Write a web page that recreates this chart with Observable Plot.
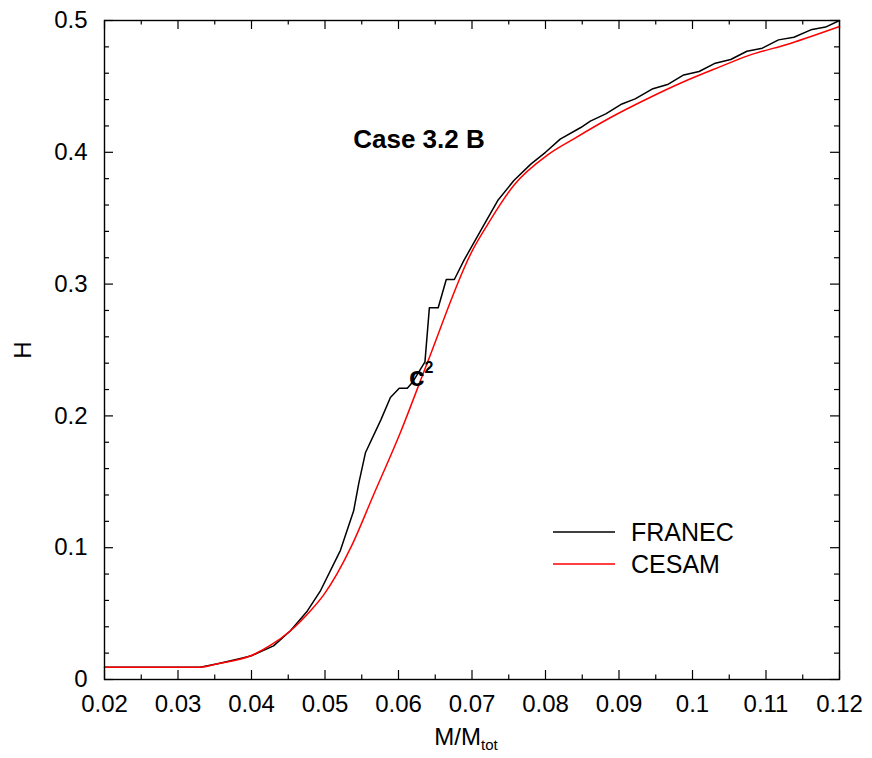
<!DOCTYPE html>
<html>
<head>
<meta charset="utf-8">
<script src="https://cdn.jsdelivr.net/npm/d3@7"></script>
<script src="https://cdn.jsdelivr.net/npm/@observablehq/plot@0.6"></script>
<style>
  html, body { margin: 0; padding: 0; background: white; }
  #chart { position: relative; width: 872px; height: 758px; }
</style>
</head>
<body>
<div id="chart"></div>
<script>
// ---- data ----
const franecX = [0.020, 0.033, 0.0354, 0.0385, 0.0400, 0.0430, 0.0453, 0.0476, 0.0494, 0.0521, 0.0539, 0.0546, 0.0555, 0.0576, 0.0589, 0.0601, 0.0612, 0.0619, 0.0636, 0.0642, 0.0654, 0.0665, 0.0676, 0.0689, 0.0712, 0.0735, 0.0757, 0.0780, 0.0800, 0.0820, 0.0848, 0.0861, 0.0882, 0.0904, 0.0922, 0.0945, 0.0966, 0.0988, 0.1009, 0.1031, 0.1052, 0.1074, 0.1095, 0.1117, 0.1138, 0.1161, 0.1181, 0.1200];
const franecH = [0.0093, 0.0093, 0.012, 0.016, 0.018, 0.0255, 0.037, 0.052, 0.0675, 0.098, 0.128, 0.149, 0.172, 0.197, 0.214, 0.221, 0.221, 0.2255, 0.241, 0.282, 0.282, 0.3035, 0.3035, 0.318, 0.3407, 0.3634, 0.3786, 0.391, 0.400, 0.410, 0.4188, 0.4236, 0.4292, 0.4367, 0.4405, 0.448, 0.4514, 0.4587, 0.4613, 0.4676, 0.4704, 0.4767, 0.479, 0.4853, 0.4873, 0.4929, 0.495, 0.500];

const cesamX = [0.020, 0.033, 0.0354, 0.0399, 0.0426, 0.0453, 0.0480, 0.0498, 0.0535, 0.0566, 0.0603, 0.0639, 0.0701, 0.0721, 0.0757, 0.0803, 0.0838, 0.0888, 0.0940, 0.0988, 0.1038, 0.1074, 0.1133, 0.1200];
const cesamH = [0.0093, 0.0093, 0.012, 0.018, 0.026, 0.037, 0.052, 0.064, 0.100, 0.140, 0.188, 0.240, 0.326, 0.345, 0.375, 0.398, 0.410, 0.4262, 0.441, 0.4535, 0.465, 0.4730, 0.4826, 0.4954];

const xMajor = [0.02, 0.03, 0.04, 0.05, 0.06, 0.07, 0.08, 0.09, 0.1, 0.11, 0.12];
const xMinor = [0.025, 0.035, 0.045, 0.055, 0.065, 0.075, 0.085, 0.095, 0.105, 0.115];
const yMajor = [0, 0.1, 0.2, 0.3, 0.4, 0.5];
const yMinor = [0.02, 0.04, 0.06, 0.08, 0.12, 0.14, 0.16, 0.18, 0.22, 0.24, 0.26, 0.28, 0.32, 0.34, 0.36, 0.38, 0.42, 0.44, 0.46, 0.48];

const seriesNames = ["FRANEC", "CESAM"];
const seriesColors = ["#000000", "#ff0000"];

const franec = franecX.map((x, i) => ({x, h: franecH[i]}));
const cesam = cesamX.map((x, i) => ({x, h: cesamH[i]}));

// ---- layout ----
const W = 872, Hgt = 758;
const mL = 104, mR = 33, mT = 20, mB = 79;
const innerW = W - mL - mR, innerH = Hgt - mT - mB;
const FONT = "'Liberation Sans', Arial, Helvetica, sans-serif";

const tickMarks = (isMajor) => {
  const xs = isMajor ? xMajor : xMinor;
  const ys = isMajor ? yMajor : yMinor;
  const lx = isMajor ? 9 : 4.5, ly = isMajor ? 9 : 5;
  return [
    Plot.tickX(xs, {x: d => d, insetTop: innerH - lx, stroke: "black", strokeWidth: 1.2}),
    Plot.tickX(xs, {x: d => d, insetBottom: innerH - lx, stroke: "black", strokeWidth: 1.2}),
    Plot.tickY(ys, {y: d => d, insetRight: innerW - ly, stroke: "black", strokeWidth: 1.2}),
    Plot.tickY(ys, {y: d => d, insetLeft: innerW - ly, stroke: "black", strokeWidth: 1.2})
  ];
};

const chart = Plot.plot({
  width: W, height: Hgt,
  marginLeft: mL, marginRight: mR, marginTop: mT, marginBottom: mB,
  style: {fontFamily: FONT, fontSize: "24px", color: "black", background: "white", overflow: "visible"},
  x: {domain: [0.02, 0.12]},
  y: {domain: [0, 0.5]},
  marks: [
    ...tickMarks(true),
    ...tickMarks(false),
    Plot.axisX(xMajor, {tickSize: 0, tickPadding: 15, fontSize: 24, label: null, tickFormat: d => String(d)}),
    Plot.axisY(yMajor, {tickSize: 0, tickPadding: 17, fontSize: 24, label: null, tickFormat: d => String(d)}),
    Plot.line(franec, {x: "x", y: "h", stroke: seriesColors[0], strokeWidth: 1.5}),
    Plot.line(cesam, {x: "x", y: "h", stroke: seriesColors[1], strokeWidth: 1.5, curve: "monotone-x"}),
    Plot.frame({stroke: "black", strokeWidth: 1.4})
  ]
});

document.getElementById("chart").appendChild(chart);

// ---- annotations, axis titles, legend ----
const svg = d3.select(chart);
const g = svg.append("g").attr("font-family", FONT).attr("fill", "black").attr("text-anchor", "start");

// x-axis title with subscript
const xt = g.append("text").attr("x", 466).attr("y", 745).attr("text-anchor", "middle").attr("font-size", 24);
xt.append("tspan").text("M/M");
xt.append("tspan").attr("font-size", 15).attr("dy", 5).text("tot");

// y-axis title
g.append("text").attr("transform", "translate(31,350) rotate(-90)")
  .attr("text-anchor", "middle").attr("font-size", 24).text("H");

// "Case 3.2 B"
g.append("text").attr("x", 419).attr("y", 148).attr("text-anchor", "middle")
  .attr("font-size", 26).attr("font-weight", "bold").text("Case 3.2 B");

// c^2 marker
const ct = g.append("text").attr("x", 409).attr("y", 386).attr("text-anchor", "start")
  .attr("font-size", 28).attr("font-weight", "bold");
ct.append("tspan").text("c");
ct.append("tspan").attr("font-size", 16).attr("dy", -13).text("2");

// legend
const legY = [532, 564];
seriesNames.forEach((name, i) => {
  g.append("line").attr("x1", 553).attr("x2", 615).attr("y1", legY[i]).attr("y2", legY[i])
    .attr("stroke", seriesColors[i]).attr("stroke-width", 1.5);
  g.append("text").attr("x", 631).attr("y", legY[i] + 9).attr("text-anchor", "start")
    .attr("font-size", 25).text(name);
});
</script>
</body>
</html>
